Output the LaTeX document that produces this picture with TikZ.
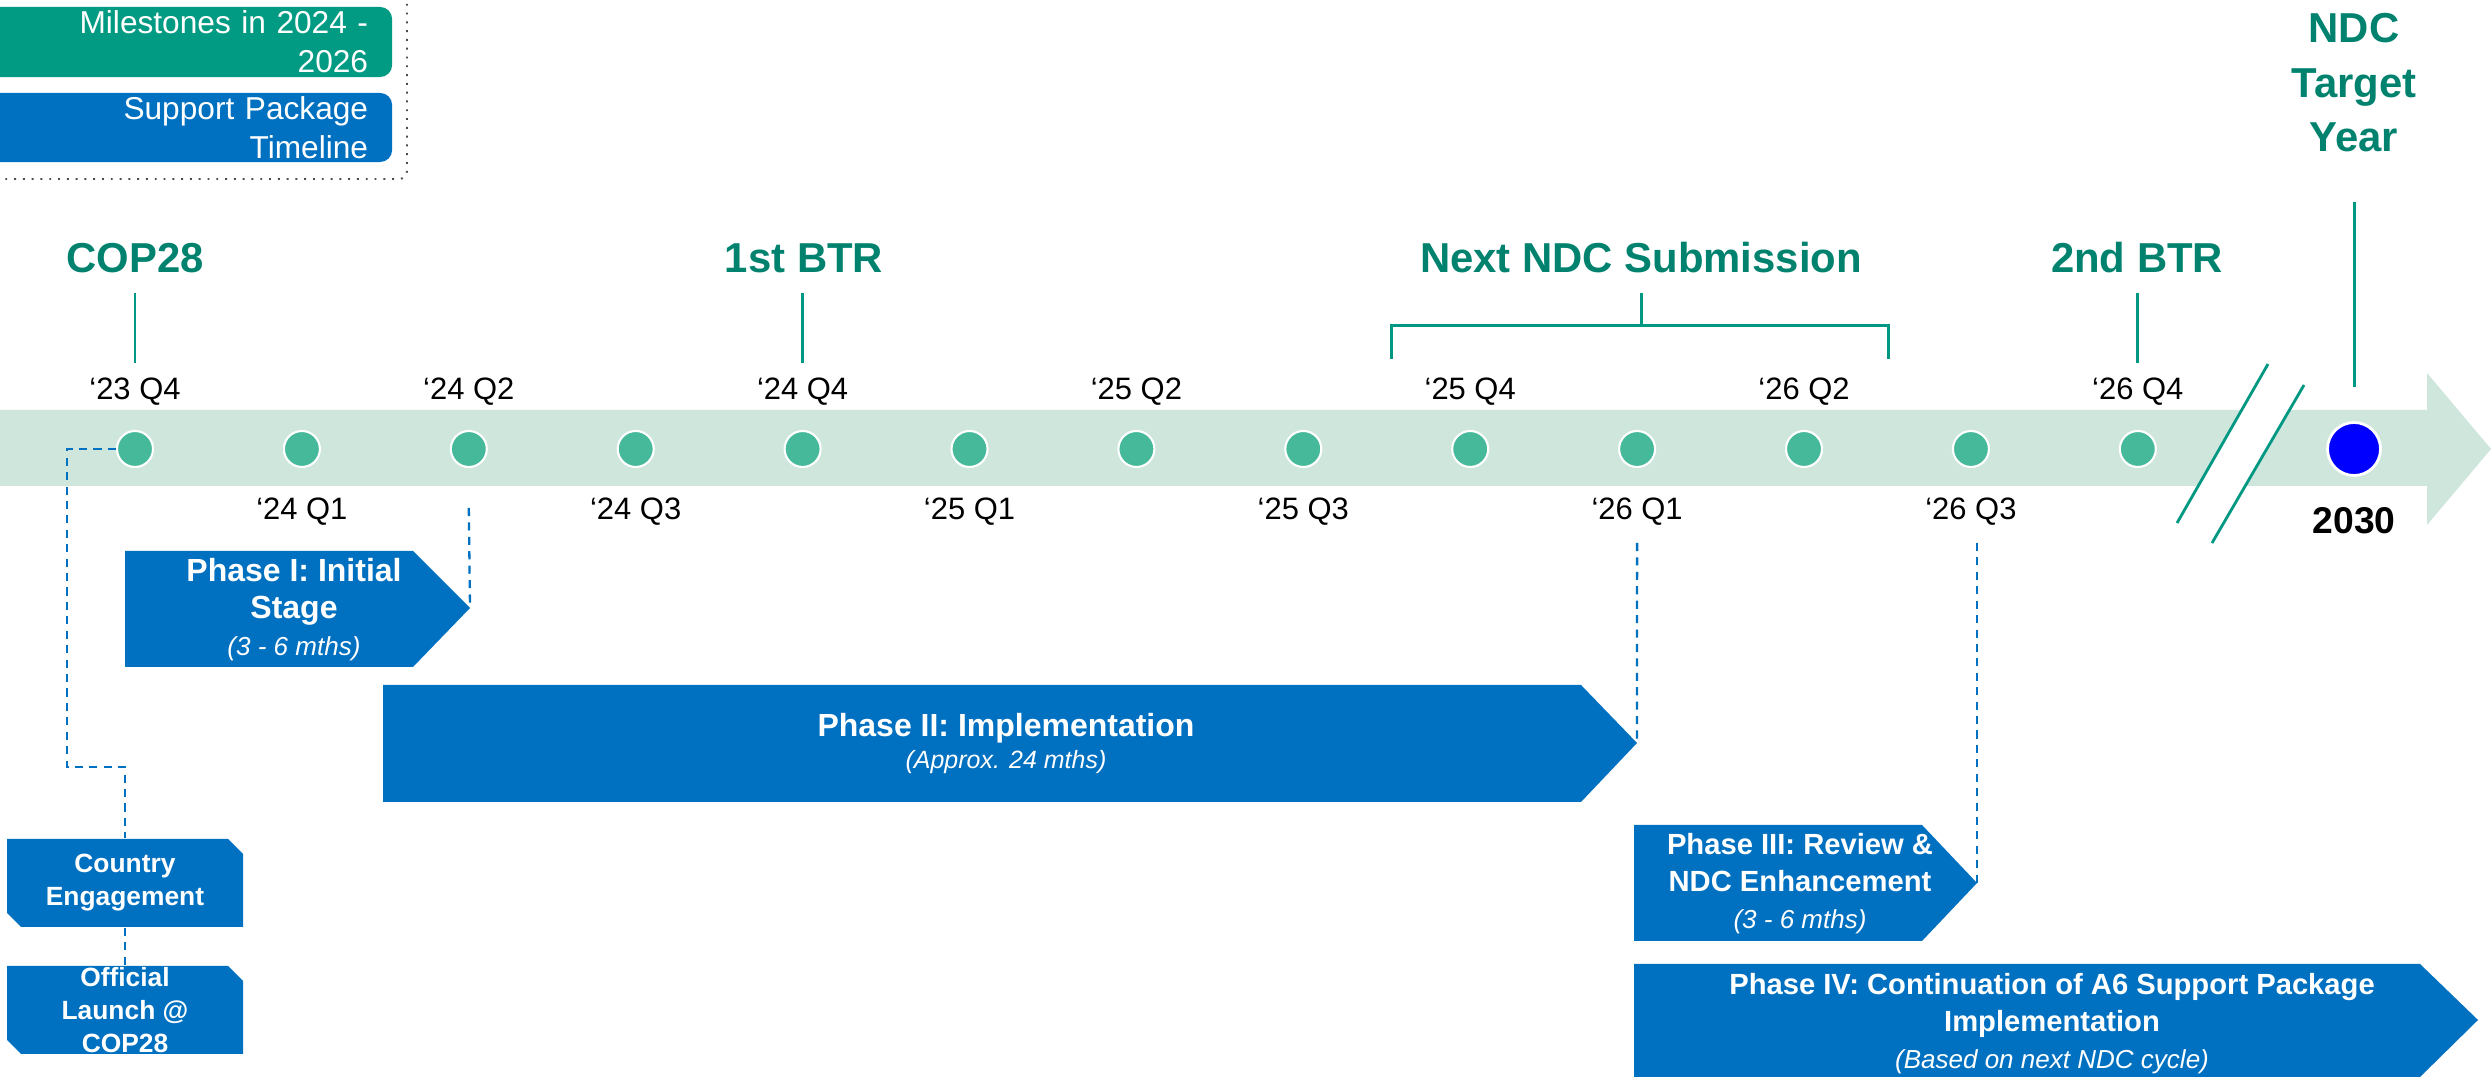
\documentclass[tikz,border=0pt]{standalone}
\usepackage{fontspec}
\setmainfont{Liberation Sans}
\definecolor{bandc}{RGB}{207,230,221}
\definecolor{dotc}{RGB}{69,185,154}
\definecolor{headc}{RGB}{0,130,110}
\definecolor{tickc}{RGB}{0,152,130}
\definecolor{leggreen}{RGB}{0,155,130}
\definecolor{pblue}{RGB}{0,112,192}
\definecolor{ndcblue}{RGB}{0,0,255}
\tikzset{
  qdot/.style={circle,fill=dotc,draw=white,line width=0.6pt,minimum size=0.36cm,inner sep=0pt},
  bigdot/.style={circle,fill=ndcblue,draw=white,line width=0.8pt,minimum size=0.53cm,inner sep=0pt},
  qlab/.style={anchor=base,inner sep=0pt,font=\fontsize{8.8}{10}\selectfont},
  headlab/.style={anchor=base,inner sep=0pt,text=headc,font=\bfseries\fontsize{11.9}{15.6}\selectfont,align=center},
  tickline/.style={draw=tickc,line width=0.85pt},
  breakline/.style={draw=tickc,line width=0.8pt},
  dashline/.style={draw=pblue,line width=0.65pt,dash pattern=on 2.3pt off 1.8pt},
  legbox/.style={fill=leggreen,rounded corners=0.12cm,minimum width=4.12cm,inner xsep=0.24cm,inner ysep=0pt,text width=3.64cm,align=right,text=white,font=\fontsize{9}{11.1}\selectfont},
  phtext/.style={inner sep=0pt,text=white,align=center},
  cetext/.style={inner sep=0pt,text=white,align=center,minimum width=2.36cm,minimum height=0.88cm,font=\bfseries\fontsize{7.5}{9.4}\selectfont},
}
\begin{document}
\begin{tikzpicture}[x=0.01cm,y=-0.01cm]
\useasboundingbox (0,0) rectangle (2491,1077);
\clip (0,0) rectangle (2491,1077);

% legend
\node[legbox,minimum height=0.70cm] (lg1) at (186,42) {Milestones in 2024 -\\2026};
\node[legbox,fill=pblue,minimum height=0.69cm] (lg2) at (186,127.5) {Support Package\\Timeline};
\draw[gray!60!black,line width=0.55pt,dash pattern=on 0.55pt off 1.95pt,rounded corners=0.08cm] (407,-5) -- (407,179) -- (-5,179);

% timeline band
\fill[bandc] (0,410) -- (2427,410) -- (2427,373) -- (2491,449) -- (2427,525) -- (2427,486) -- (0,486) -- cycle;
% break
\coordinate (b1a) at (2268,364); \coordinate (b1b) at (2177,523);
\coordinate (b2a) at (2304,385); \coordinate (b2b) at (2212,543);
\fill[white] (b1a) -- (b2a) -- (b2b) -- (b1b) -- cycle;
\draw[breakline] (b1a) -- (b1b);
\draw[breakline] (b2a) -- (b2b);

% quarter dots
\foreach \i in {0,...,12} {
  \node[qdot] (q\i) at ({135+166.9*\i},449) {};
}
\foreach \i/\t in {0/‘23 Q4,2/‘24 Q2,4/‘24 Q4,6/‘25 Q2,8/‘25 Q4,10/‘26 Q2,12/‘26 Q4} {
  \node[qlab] (l\i) at ({135+166.9*\i},400) {\t};
}
\foreach \i/\t in {1/‘24 Q1,3/‘24 Q3,5/‘25 Q1,7/‘25 Q3,9/‘26 Q1,11/‘26 Q3} {
  \node[qlab] (l\i) at ({135+166.9*\i},520) {\t};
}
\node[bigdot] (y30) at (2354,449) {};
\node[anchor=base,inner sep=0pt,font=\bfseries\fontsize{10.6}{12}\selectfont] (y30l) at (2354,534) {2030};

% milestone headings
\node[headlab] (hcop) at (135,273) {COP28};
\node[headlab] (hbtr1) at (804,273) {1st BTR};
\node[headlab] (hndc) at (1641,273) {Next NDC Submission};
\node[headlab] (hbtr2) at (2137,273) {2nd BTR};
\node[headlab] (htarget) at (2354,152) {NDC\\Target\\Year};

\draw[tickline] (q0 |- 0,293) -- (q0 |- 0,363);
\draw[tickline] (q4 |- 0,293) -- (q4 |- 0,363);
\draw[tickline] (q12 |- 0,293) -- (q12 |- 0,363);
\draw[tickline] (1391,359) -- (1391,326) -- (1888,326) -- (1888,359);
\draw[tickline] (hndc.south |- 0,293) -- (hndc.south |- 0,326);
\draw[tickline] (y30 |- 0,202) -- (y30 |- 0,387);

% phases
\fill[pblue] (125,551) -- (413,551) -- (470,608) -- (413,667) -- (125,667) -- cycle;
\coordinate (p1tip) at (470,608);
\node[phtext,font=\bfseries\fontsize{9.1}{10.5}\selectfont] (p1) at (294,610) {Phase I: Initial\\Stage\\{\normalfont\itshape\fontsize{7.4}{9}\selectfont (3 - 6 mths)}};

\fill[pblue] (383,685) -- (1581,685) -- (1637,743) -- (1581,802) -- (383,802) -- cycle;
\coordinate (p2tip) at (1637,743);
\node[phtext,font=\bfseries\fontsize{9.1}{9.1}\selectfont] (p2) at (1006,744) {Phase II: Implementation\\{\normalfont\itshape\fontsize{7.1}{9}\selectfont (Approx. 24 mths)}};

\fill[pblue] (1634,825) -- (1922,825) -- (1977,883) -- (1922,941) -- (1634,941) -- cycle;
\coordinate (p3tip) at (1977,883);
\node[phtext,font=\bfseries\fontsize{8.3}{10.5}\selectfont] (p3) at (1800,884) {Phase III: Review \&\\NDC Enhancement\\{\normalfont\itshape\fontsize{7.4}{9}\selectfont (3 - 6 mths)}};

\fill[pblue] (1634,964) -- (2420,964) -- (2478,1020) -- (2420,1077) -- (1634,1077) -- cycle;
\node[phtext,font=\bfseries\fontsize{8.3}{10.5}\selectfont] (p4) at (2052,1024) {Phase IV: Continuation of A6 Support Package\\Implementation\\{\normalfont\itshape\fontsize{7.4}{8.6}\selectfont (Based on next NDC cycle)}};

% country engagement boxes
\fill[pblue] (7,839) -- (228,839) -- (243,854) -- (243,927) -- (21,927) -- (7,913) -- cycle;
\node[cetext] (ce) at (125,883) {Country\\Engagement};
\fill[pblue] (7,966) -- (228,966) -- (243,981) -- (243,1054) -- (21,1054) -- (7,1040) -- cycle;
\node[cetext] (ol) at (125,1010) {Official\\Launch @\\COP28};

% dashed connectors
\draw[dashline] (q0.west) -- (67,449) -- (67,767) -- (125,767) -- (ce.north);
\draw[dashline] (ce.south) -- (ol.north);
\draw[dashline] (q2 |- 0,508) -- (p1tip);
\draw[dashline] (q9 |- 0,543) -- (p2tip);
\draw[dashline] (p3tip |- 0,543) -- (p3tip);
\end{tikzpicture}
\end{document}
